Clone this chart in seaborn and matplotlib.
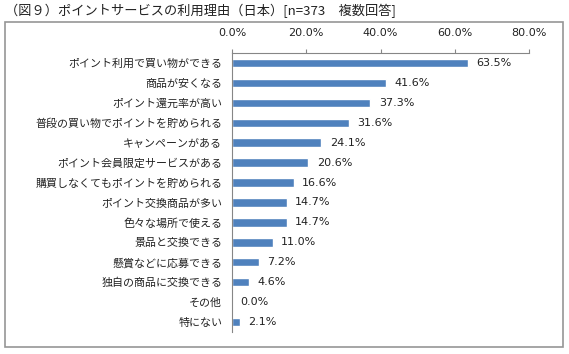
import matplotlib
matplotlib.use('Agg')
import matplotlib.pyplot as plt
import matplotlib.patches as mpatches
from matplotlib.ticker import FuncFormatter, FixedLocator
import numpy as np
import pandas as pd
import seaborn as sns

# データ
categories = ['ポイント利用で買い物ができる', '商品が安くなる', 'ポイント還元率が高い',
              '普段の買い物でポイントを貯められる', 'キャンペーンがある',
              'ポイント会員限定サービスがある', '購買しなくてもポイントを貯められる',
              'ポイント交換商品が多い', '色々な場所で使える', '景品と交換できる',
              '懸賞などに応募できる', '独自の商品に交換できる', 'その他', '特にない']
values = [63.5, 41.6, 37.3, 31.6, 24.1, 20.6, 16.6, 14.7, 14.7, 11.0, 7.2, 4.6, 0.0, 2.1]
x_ticks = [0, 20, 40, 60, 80]

title = '（図９）ポイントサービスの利用理由（日本）[n=373　複数回答]'

df = pd.DataFrame({'reason': categories, 'pct': values})

sns.set_style('white')
plt.rcParams['font.family'] = ['Noto Sans CJK JP', 'DejaVu Sans']

fig = plt.figure(figsize=(5.69, 3.54), dpi=100)
ax = fig.add_axes([232 / 569, 1 - 332 / 354, (529 - 232) / 569, (332 - 53) / 354])

# 外枠
frame = mpatches.Rectangle((5 / 569, 1 - 347 / 354), 558 / 569, 325 / 354,
                           transform=fig.transFigure, fill=False,
                           edgecolor='#969696', linewidth=1.2)
fig.patches.append(frame)

fig.text(5 / 569, 1 - 11 / 354, title, fontsize=9.5, ha='left', va='center', color='#222222')

sns.barplot(data=df, x='pct', y='reason', orient='h', color='#4F81BD',
            saturation=1, width=0.42, ax=ax)

# 数値ラベル
for i, v in enumerate(values):
    ax.annotate(f'{v:.1f}%', xy=(v, i), xytext=(6, 0), textcoords='offset points',
                ha='left', va='center', fontsize=8, color='#222222', family='DejaVu Sans')

ax.set_xlim(0, 80)
ax.set_ylim(len(categories) - 0.5, -0.5)
ax.xaxis.tick_top()
ax.set_xticks(x_ticks)
ax.xaxis.set_major_formatter(FuncFormatter(lambda x, p: f'{x:.1f}%'))
ax.tick_params(axis='x', which='major', direction='out', length=3, width=0.8,
               color='#868686', labelsize=8, pad=8, labelcolor='#222222')
for lab in ax.get_xticklabels():
    lab.set_family('DejaVu Sans')
ax.tick_params(axis='y', which='major', length=0, labelsize=7.9, pad=7, labelcolor='#222222')
ax.yaxis.set_minor_locator(FixedLocator(np.arange(-0.5, len(categories), 1.0)))
ax.tick_params(axis='y', which='minor', direction='out', length=3, width=0.8, color='#868686')
ax.set_xlabel('')
ax.set_ylabel('')

for s in ['right', 'bottom']:
    ax.spines[s].set_visible(False)
for s in ['top', 'left']:
    ax.spines[s].set_color('#868686')
    ax.spines[s].set_linewidth(0.8)

fig.savefig('out.png', dpi=100)
